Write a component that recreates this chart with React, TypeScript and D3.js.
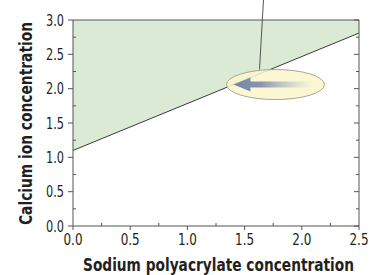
import React from "react";
import * as d3 from "d3";

const xDomain = [0, 2.5];
const yDomain = [0, 3];
const xTicks = [0, 0.5, 1.0, 1.5, 2.0, 2.5];
const yTicks = [0, 0.5, 1.0, 1.5, 2.0, 2.5, 3.0];
const boundaryX = [0, 2.5];
const boundaryY = [1.1, 2.81];
const xTitle = "Sodium polyacrylate concentration";
const yTitle = "Calcium ion concentration";

const W = 369, H = 275;
const m = { left: 73, right: 10, top: 20, bottom: 49 };
const FONT = "'Liberation Sans Narrow', 'DejaVu Sans Condensed', 'Open Sans', sans-serif";
const INK = "#231f20";

export default function App() {
  const x = d3.scaleLinear().domain(xDomain).range([m.left, W - m.right]);
  const y = d3.scaleLinear().domain(yDomain).range([H - m.bottom, m.top]);
  const pts: [number, number][] = boundaryX.map((v, i) => [v, boundaryY[i]]);
  const line = d3.line<[number, number]>().x(d => x(d[0])).y(d => y(d[1]));
  const area = d3.area<[number, number]>().x(d => x(d[0])).y0(() => y(yDomain[1])).y1(d => y(d[1]));
  const x0 = x(0), x1 = x(2.5), y0 = y(0), y1 = y(3);
  const minorX = d3.range(0.25, 2.5, 0.5);
  const minorY = d3.range(0.25, 3, 0.5);

  const cx = x(1.77), cy = y(2.06);
  return (
    <svg width={W} height={H} style={{ position: "absolute", left: 0, top: 0 }}>
      <defs>
        <linearGradient id="arr" x1="0" x2="1" y1="0" y2="0">
          <stop offset="0" stopColor="#7584a6" />
          <stop offset="0.35" stopColor="#8a96b0" />
          <stop offset="1" stopColor="#fbf7d4" stopOpacity="0.6" />
        </linearGradient>
      </defs>
      <rect x={0} y={0} width={W} height={H} fill="#fff" />
      <path d={area(pts) || ""} fill="#dbead5" />
      <path d={line(pts) || ""} stroke="#3a3a3a" strokeWidth={1} fill="none" />
      <line x1={x0} x2={x1} y1={y1} y2={y1} stroke="#555" strokeWidth={1} />
      <line x1={x1} x2={x1} y1={y1} y2={y0} stroke="#555" strokeWidth={1} />
      <line x1={x0} x2={x0} y1={y1} y2={y0} stroke="#555" strokeWidth={1} />
      <line x1={x0} x2={x1} y1={y0} y2={y0} stroke="#555" strokeWidth={1} />
      {yTicks.map(t => (
        <g key={"y" + t}>
          <line x1={x0 - 5} x2={x0} y1={y(t)} y2={y(t)} stroke="#555" />
          <line x1={x1 - 5} x2={x1} y1={y(t)} y2={y(t)} stroke="#555" />
          <text x={x0 - 9} y={y(t) + 5.5} textAnchor="end" fontFamily={FONT} fontSize={16} fill={INK}
            textLength={18} lengthAdjust="spacingAndGlyphs">{t.toFixed(1)}</text>
        </g>
      ))}
      {minorY.map(t => (
        <g key={"my" + t}>
          <line x1={x0} x2={x0 + 3} y1={y(t)} y2={y(t)} stroke="#555" />
          <line x1={x1 - 3} x2={x1} y1={y(t)} y2={y(t)} stroke="#555" />
        </g>
      ))}
      {xTicks.map(t => (
        <g key={"x" + t}>
          <line x1={x(t)} x2={x(t)} y1={y0} y2={y0 + 4} stroke="#555" />
          <text x={x(t)} y={y0 + 19} textAnchor="middle" fontFamily={FONT} fontSize={16} fill={INK}
            textLength={19} lengthAdjust="spacingAndGlyphs">{t.toFixed(1)}</text>
        </g>
      ))}
      {minorX.map(t => (
        <line key={"mx" + t} x1={x(t)} x2={x(t)} y1={y0} y2={y0 - 3} stroke="#555" />
      ))}
      <line x1={cx - 16} y1={cy - 15} x2={cx - 12} y2={0} stroke="#555" strokeWidth={1} />
      <ellipse cx={cx} cy={cy} rx={49} ry={15} fill="#fbf6cc" fillOpacity={0.88} stroke="#a8a796" strokeWidth={1} />
      <path
        d={`M${cx - 42},${cy} L${cx - 25},${cy - 7} L${cx - 25},${cy - 3} L${cx + 38},${cy - 3} L${cx + 38},${cy + 3} L${cx - 25},${cy + 3} L${cx - 25},${cy + 7} Z`}
        fill="url(#arr)"
      />
      <text x={218.5} y={271} textAnchor="middle" fontFamily={FONT} fontWeight="bold" fontSize={18} fill={INK}
        textLength={271} lengthAdjust="spacingAndGlyphs">{xTitle}</text>
      <text transform={`translate(32,123.5) rotate(-90)`} textAnchor="middle" fontFamily={FONT} fontWeight="bold" fontSize={18} fill={INK}
        textLength={203} lengthAdjust="spacingAndGlyphs">{yTitle}</text>
    </svg>
  );
}
